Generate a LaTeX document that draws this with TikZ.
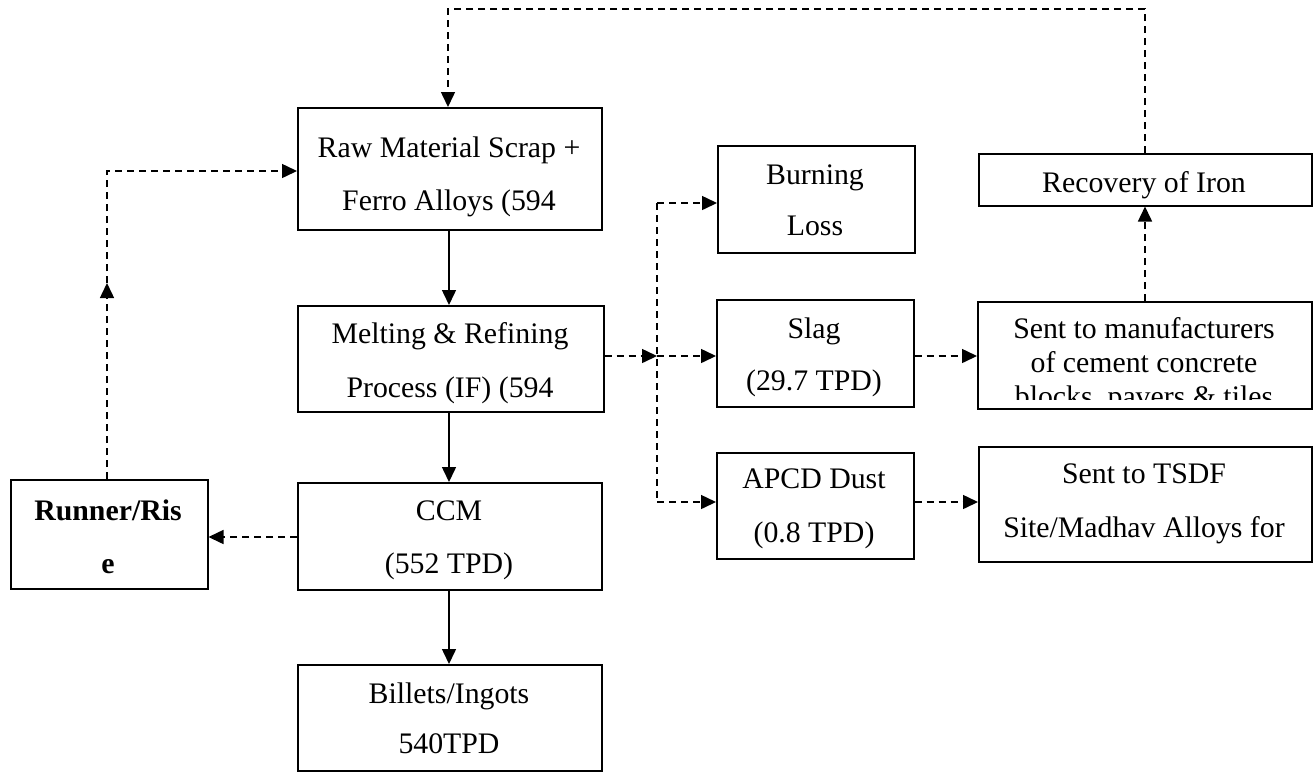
\documentclass[tikz,border=0pt]{standalone}
\usepackage{fontspec}
\setmainfont{Liberation Serif}
\usetikzlibrary{arrows.meta}
\tikzset{
  box/.style={draw, line width=1.5pt, rectangle, inner sep=0pt, anchor=north west},
  txt/.style={anchor=base, inner sep=0pt, font=\fontsize{29.8}{36}\selectfont},
  conn/.style={line width=1.5pt, -{Triangle[length=15pt,width=14pt]}},
  dconn/.style={conn, dash pattern=on 7pt off 5pt},
  dline/.style={line width=1.5pt, dash pattern=on 7pt off 5pt},
}
\begin{document}
\begin{tikzpicture}[x=1pt,y=-1pt]
\useasboundingbox (0,0) rectangle (1313,772);
% boxes
\node[box, minimum width=304pt, minimum height=122pt] (raw) at (297,107) {};
\node[box, minimum width=306pt, minimum height=106pt] (melt) at (297,305) {};
\node[box, minimum width=304pt, minimum height=107pt] (ccm) at (297,482) {};
\node[box, minimum width=304pt, minimum height=106pt] (bil) at (297,664) {};
\node[box, minimum width=197pt, minimum height=109pt] (run) at (10,479) {};
\node[box, minimum width=197pt, minimum height=107pt] (burn) at (717,145) {};
\node[box, minimum width=197pt, minimum height=107pt] (slag) at (716,299) {};
\node[box, minimum width=197pt, minimum height=106pt] (apcd) at (716,452) {};
\node[box, minimum width=333pt, minimum height=52pt] (rec) at (978,153) {};
\node[box, minimum width=334pt, minimum height=107pt] (mfr) at (977,301) {};
\node[box, minimum width=333pt, minimum height=115pt] (tsdf) at (978,446) {};
% texts
\node[txt] (rawa) at (449,157) {Raw Material Scrap +};
\node[txt] (rawb) at (449,210) {Ferro Alloys (594};
\node[txt] (melta) at (450,343) {Melting \& Refining};
\node[txt] (meltb) at (450,397) {Process (IF) (594};
\node[txt] (ccma) at (449,520) {CCM};
\node[txt] (ccmb) at (449,573) {(552 TPD)};
\node[txt] (bila) at (449,703) {Billets/Ingots};
\node[txt] (bilb) at (449,753) {540TPD};
\node[txt, font=\fontsize{29.8}{36}\selectfont\bfseries] (runa) at (108,520) {Runner/Ris};
\node[txt, font=\fontsize{29.8}{36}\selectfont\bfseries] (runb) at (108,573) {e};
\node[txt] (burna) at (815,184) {Burning};
\node[txt] (burnb) at (815,235) {Loss};
\node[txt] (slaga) at (814,338) {Slag};
\node[txt] (slagb) at (814,390) {(29.7 TPD)};
\node[txt] (apcda) at (814,488) {APCD Dust};
\node[txt] (apcdb) at (814,542) {(0.8 TPD)};
\node[txt] (reca) at (1144,192) {Recovery of Iron};
\node[txt] (mfra) at (1144,338) {Sent to manufacturers};
\node[txt] (mfrb) at (1144,372) {of cement concrete};
\begin{scope}
\clip (977,301) rectangle (1311,399);
\node[txt] (mfrc) at (1144,406) {blocks, pavers \& tiles};
\end{scope}
\node[txt] (tsdfa) at (1144,483) {Sent to TSDF};
\node[txt] (tsdfb) at (1144,537) {Site/Madhav Alloys for};
% coordinates
\coordinate (col) at (449,0);
\coordinate (j) at (657,356);
\coordinate (jt) at (657,203);
\coordinate (jb) at (657,502);
\coordinate (rm) at (107,283);
\coordinate (rt) at (107,171);
\coordinate (topr) at (1145,9);
\coordinate (topl) at (448,9);
\coordinate (cr) at (0,537);
% solid arrows
\draw[conn] (raw.south -| col) -- (melt.north -| col);
\draw[conn] (melt.south -| col) -- (ccm.north -| col);
\draw[conn] (ccm.south -| col) -- (bil.north -| col);
% dashed
\draw[dconn] (melt.east |- j) -- (j);
\draw[dconn] (j) -- (slag.west |- j);
\draw[dline] (jt) -- (jb);
\draw[dconn] (jt) -- (burn.west |- jt);
\draw[dconn] (jb) -- (apcd.west |- jb);
\draw[dconn] (slag.east |- j) -- (mfr.west |- j);
\draw[dconn] (apcd.east |- jb) -- (tsdf.west |- jb);
\draw[dconn] (mfr.north -| topr) -- (rec.south -| topr);
\draw[dconn] (rec.north -| topr) -- (topr) -- (topl) -- (raw.north -| topl);
\draw[dconn] (ccm.west |- cr) -- (run.east |- cr);
\draw[dconn] (run.north -| rm) -- (rm);
\draw[dconn] (rm) -- (rt) -- (raw.west |- rt);
\end{tikzpicture}
\end{document}
